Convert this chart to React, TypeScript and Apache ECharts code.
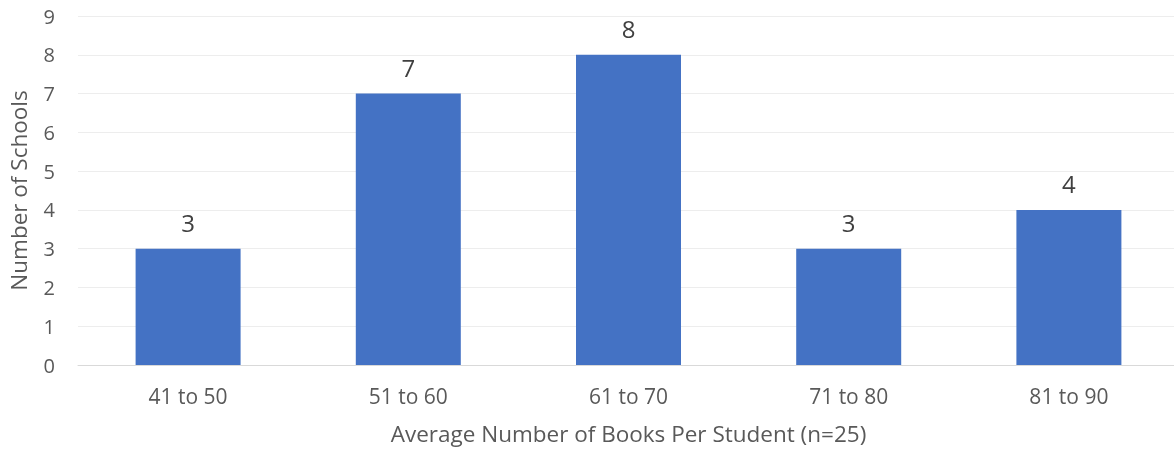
import React, { useEffect, useRef } from "react";
import * as echarts from "echarts";

const categories = ["41 to 50", "51 to 60", "61 to 70", "71 to 80", "81 to 90"];
const schools = [3, 7, 8, 3, 4];
const yTicks = { min: 0, max: 9, interval: 1 };

const FONT = "'Open Sans', 'Liberation Sans', sans-serif";

export default function App() {
  const ref = useRef<HTMLDivElement>(null);
  useEffect(() => {
    if (!ref.current) return;
    const chart = echarts.init(ref.current, null, { renderer: "svg" });
    chart.setOption({
      animation: false,
      grid: {
        left: 78,
        right: -5,
        top: 16,
        bottom: 85,
        containLabel: false,
        outerBoundsMode: "none",
      },
      xAxis: {
        type: "category",
        data: categories,
        name: "Average Number of Books Per Student (n=25)",
        nameLocation: "middle",
        nameGap: 57,
        nameTextStyle: { fontFamily: FONT, fontSize: 22.5, color: "#595959" },
        axisLine: { lineStyle: { color: "#D9D9D9", width: 1 } },
        axisTick: { show: false },
        axisLabel: { fontFamily: FONT, fontSize: 21, color: "#595959", margin: 20 },
      },
      yAxis: {
        type: "value",
        min: yTicks.min,
        max: yTicks.max,
        interval: yTicks.interval,
        name: "Number of Schools",
        nameLocation: "middle",
        nameGap: 48,
        nameTextStyle: { fontFamily: FONT, fontSize: 22.5, color: "#595959" },
        axisLine: { show: false },
        axisTick: { show: false },
        axisLabel: { fontFamily: FONT, fontSize: 20, color: "#595959", margin: 23 },
        splitLine: { lineStyle: { color: "#EDEDED", width: 1 } },
      },
      series: [
        {
          type: "bar",
          data: schools,
          barWidth: 105,
          itemStyle: { color: "#4472C4" },
          label: {
            show: true,
            position: "top",
            distance: 14,
            fontFamily: FONT,
            fontSize: 24,
            color: "#404040",
          },
        },
      ],
    });
    return () => chart.dispose();
  }, []);
  return (
    <div
      ref={ref}
      style={{ position: "fixed", left: 0, top: 0, width: 1174, height: 450 }}
    />
  );
}
